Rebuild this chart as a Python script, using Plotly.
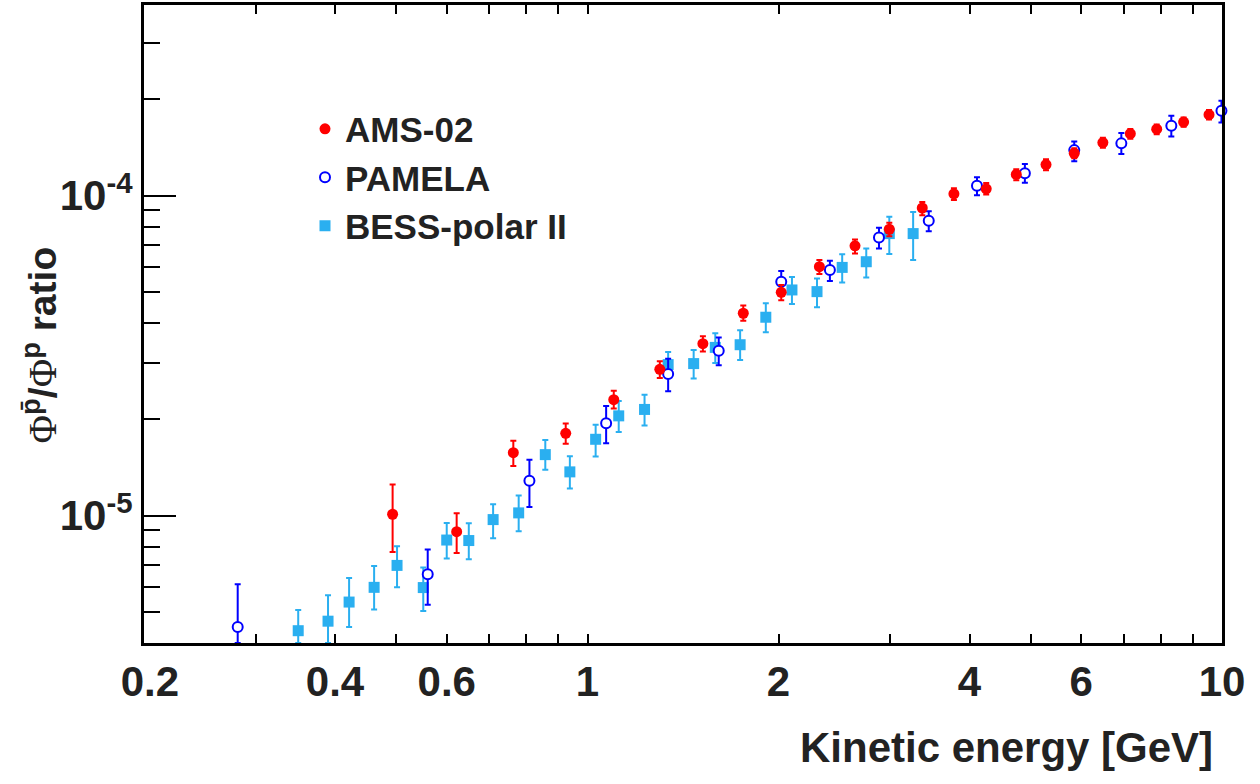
import math
import plotly.graph_objects as go

# ---------------- data (ratio values in units of 1e-5) ----------------
SCALE = 1e-5

ams_E = [0.493, 0.622, 0.764, 0.924, 1.10, 1.30, 1.52, 1.76, 2.02, 2.32, 2.64, 2.99,
         3.37, 3.78, 4.25, 4.74, 5.28, 5.85, 6.49, 7.17, 7.89, 8.70, 9.54]
ams_R = [1.01, 0.891, 1.573, 1.808, 2.304, 2.866, 3.445, 4.289, 4.986, 5.995, 6.966, 7.849,
         9.145, 10.13, 10.50, 11.64, 12.50, 13.56, 14.64, 15.61, 16.13, 16.97, 17.90]
ams_up = [0.24, 0.126, 0.142, 0.134, 0.150, 0.169, 0.193, 0.243, 0.271, 0.295, 0.322, 0.381,
          0.400, 0.42, 0.44, 0.45, 0.48, 0.49, 0.51, 0.55, 0.56, 0.58, 0.61]
ams_dn = [0.24, 0.127, 0.143, 0.130, 0.141, 0.173, 0.185, 0.227, 0.278, 0.307, 0.374, 0.382,
          0.467, 0.45, 0.43, 0.47, 0.50, 0.48, 0.54, 0.57, 0.59, 0.57, 0.60]

pam_E = [0.281, 0.560, 0.810, 1.07, 1.34, 1.61, 2.02, 2.41, 2.88, 3.45, 4.11, 4.89,
         5.85, 6.94, 8.32, 9.98]
pam_R = [0.449, 0.656, 1.285, 1.944, 2.771, 3.276, 5.383, 5.853, 7.393, 8.349, 10.73, 11.75,
         13.87, 14.56, 16.53, 18.41]
pam_up = [0.161, 0.128, 0.211, 0.255, 0.323, 0.327, 0.429, 0.405, 0.547, 0.581, 0.69, 0.81,
          0.90, 1.12, 1.23, 1.37]
pam_dn = [0.049, 0.129, 0.221, 0.260, 0.323, 0.327, 0.397, 0.444, 0.560, 0.611, 0.71, 0.79,
          1.07, 1.08, 1.22, 1.48]

bess_E = [0.350, 0.390, 0.421, 0.461, 0.501, 0.551, 0.600, 0.650, 0.710, 0.779, 0.858, 0.938,
          1.03, 1.12, 1.23, 1.34, 1.47, 1.59, 1.74, 1.91, 2.10, 2.30, 2.52, 2.75, 2.99, 3.26]
bess_R = [0.437, 0.468, 0.537, 0.597, 0.699, 0.596, 0.839, 0.836, 0.972, 1.020, 1.551, 1.370,
          1.732, 2.050, 2.147, 2.964, 2.986, 3.355, 3.420, 4.168, 5.072, 5.011, 5.965, 6.214,
          7.608, 7.608]
bess_up = [0.070, 0.096, 0.101, 0.099, 0.103, 0.092, 0.110, 0.110, 0.113, 0.135, 0.173, 0.163,
           0.191, 0.230, 0.240, 0.279, 0.305, 0.362, 0.377, 0.441, 0.495, 0.501, 0.598, 0.619,
           0.984, 1.278]
bess_dn = [0.037, 0.068, 0.088, 0.088, 0.102, 0.092, 0.104, 0.105, 0.122, 0.126, 0.161, 0.154,
           0.203, 0.225, 0.233, 0.271, 0.304, 0.356, 0.356, 0.425, 0.484, 0.533, 0.610, 0.662,
           1.044, 1.318]

x_label_vals = [0.2, 0.4, 0.6, 1, 2, 4, 6, 10]
x_label_text = ["\u00a00.2", "0.4", "0.6", "1", "2", "4", "6", "10"]
x_minor_vals = [0.3, 0.5, 0.7, 0.8, 0.9, 3, 5, 7, 8, 9]
x_major_vals = [1, 10]
y_label_vals = [1e-5, 1e-4]
y_label_text = ["10<sup>-5</sup>", "10<sup>-4</sup>"]
y_minor_vals = [5e-6, 6e-6, 7e-6, 8e-6, 9e-6, 2e-5, 3e-5, 4e-5, 5e-5, 6e-5, 7e-5, 8e-5, 9e-5,
                2e-4, 3e-4]

X_RANGE = [0.2, 10]
Y_RANGE = [4.0e-6, 3.94e-4]

# ---------------- styles ----------------
RED = "#ff0000"
BLUE = "#0000ff"
LBLUE = "#2aaff0"
TXT = "#222222"
FONT = "Liberation Sans"

ML, MR, MT, MB = 144, 38, 2, 141
PW = 1260 - ML - MR
PH = 784 - MT - MB


def sc(v):
    return [a * SCALE for a in v]


fig = go.Figure()

fig.add_trace(go.Scatter(
    x=bess_E, y=sc(bess_R), mode="markers", name="BESS-polar II",
    marker=dict(symbol="square", size=11, color=LBLUE),
    error_y=dict(type="data", symmetric=False, array=sc(bess_up), arrayminus=sc(bess_dn),
                 color=LBLUE, thickness=2, width=3),
    cliponaxis=False,
))
fig.add_trace(go.Scatter(
    x=pam_E, y=sc(pam_R), mode="markers", name="PAMELA",
    marker=dict(symbol="circle", size=10, color="white", line=dict(color=BLUE, width=2)),
    error_y=dict(type="data", symmetric=False, array=sc(pam_up), arrayminus=sc(pam_dn),
                 color=BLUE, thickness=2, width=3),
    cliponaxis=False,
))
fig.add_trace(go.Scatter(
    x=ams_E, y=sc(ams_R), mode="markers", name="AMS-02",
    marker=dict(symbol="circle", size=11, color=RED),
    error_y=dict(type="data", symmetric=False, array=sc(ams_up), arrayminus=sc(ams_dn),
                 color=RED, thickness=2, width=3),
    cliponaxis=False,
))

xr = [math.log10(X_RANGE[0]), math.log10(X_RANGE[1])]
yr = [math.log10(Y_RANGE[0]), math.log10(Y_RANGE[1])]

tickfont = dict(family=FONT, size=42, color=TXT, weight=700)

fig.update_layout(
    width=1260, height=784, autosize=False,
    margin=dict(l=ML, r=MR, t=MT, b=MB),
    paper_bgcolor="white", plot_bgcolor="white",
    showlegend=True,
    legend=dict(x=(305 - ML) / PW, y=(643 - 97) / PH, xanchor="left", yanchor="top",
                bgcolor="rgba(0,0,0,0)", traceorder="reversed",
                font=dict(family=FONT, size=35, color=TXT, weight=700),
                itemsizing="trace", tracegroupgap=0),
    xaxis=dict(type="log", range=xr, showgrid=False, zeroline=False,
               showline=True, linecolor="black", linewidth=3, mirror="ticks",
               ticks="inside", ticklen=9, tickwidth=2, tickcolor="black",
               tickmode="array", tickvals=x_label_vals, ticktext=x_label_text,
               tickfont=tickfont,
               minor=dict(tickmode="array", tickvals=x_minor_vals, ticks="inside",
                          ticklen=9, tickwidth=2, tickcolor="black", showgrid=False)),
    xaxis2=dict(type="log", range=xr, overlaying="x", anchor="y", side="bottom",
                showgrid=False, zeroline=False, showline=True, linecolor="black",
                linewidth=3, mirror="ticks", ticks="inside", ticklen=18, tickwidth=2,
                tickcolor="black", tickmode="array", tickvals=x_major_vals,
                showticklabels=False),
    yaxis=dict(type="log", range=yr, showgrid=False, zeroline=False,
               showline=True, linecolor="black", linewidth=3, mirror=True,
               ticks="inside", ticklen=32, tickwidth=2, tickcolor="black",
               tickmode="array", tickvals=y_label_vals, ticktext=y_label_text,
               tickfont=tickfont,
               minor=dict(tickmode="array", tickvals=y_minor_vals, ticks="inside",
                          ticklen=16, tickwidth=2, tickcolor="black", showgrid=False)),
)

fig.add_annotation(
    text="Kinetic energy [GeV]", xref="paper", yref="paper",
    x=(1215 - ML) / PW, y=(643 - 748) / PH, xanchor="right", yanchor="middle",
    showarrow=False, font=dict(family=FONT, size=42, color=TXT, weight=700),
)
fig.add_annotation(
    text=("<span style='font-family:Liberation Serif;font-weight:normal'>\u03a6</span>"
          "<sup>p\u0304</sup>/"
          "<span style='font-family:Liberation Serif;font-weight:normal'>\u03a6</span>"
          "<sup>p</sup> ratio"),
    xref="paper", yref="paper", textangle=-90,
    x=(39 - ML) / PW, y=(643 - 344) / PH, xanchor="center", yanchor="middle",
    showarrow=False, font=dict(family=FONT, size=39, color=TXT, weight=700),
)

fig.write_html("out.html", post_script="document.body.style.margin='0';",
               config={"displayModeBar": False})
